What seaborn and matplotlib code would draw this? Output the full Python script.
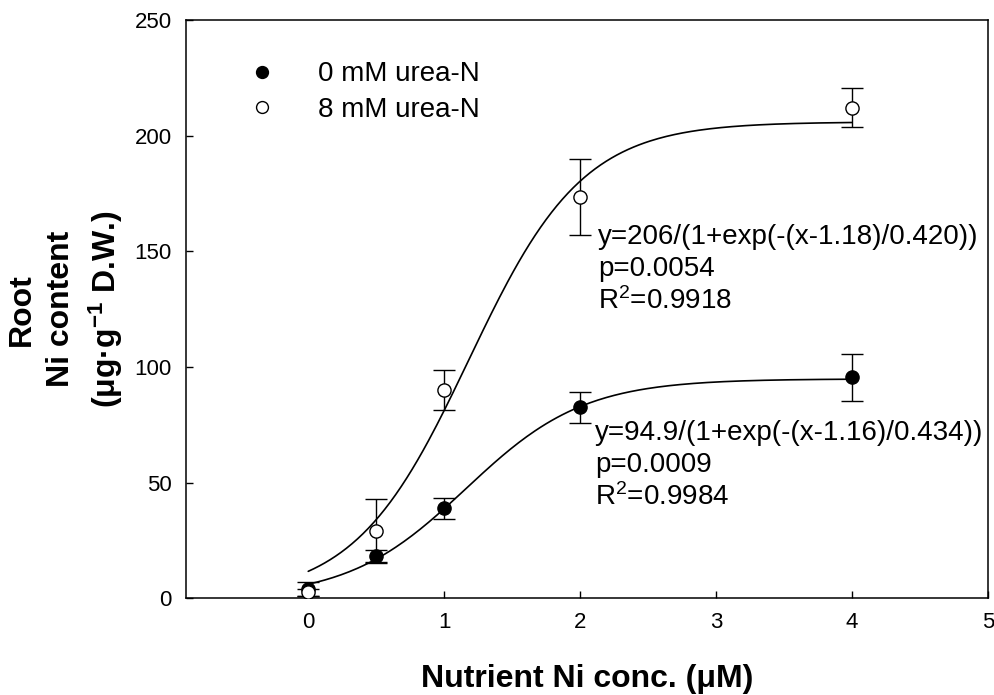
import numpy as np
import pandas as pd
import matplotlib
matplotlib.use("Agg")
import matplotlib.pyplot as plt
import seaborn as sns

# data
ni_conc = [0, 0.5, 1, 2, 4]
root_ni_0mM = [4.0, 18.4, 38.9, 82.6, 95.6]
err_0mM = [3.0, 2.5, 4.6, 6.6, 10.2]
root_ni_8mM = [2.6, 29.1, 90.1, 173.7, 212.2]
err_8mM = [1.5, 13.8, 8.5, 16.4, 8.6]

# logistic fits printed on the chart: a, x0, b
fit_0mM = (94.9, 1.16, 0.434)
fit_8mM = (206, 1.18, 0.420)
labels = ["0 mM urea-N", "8 mM urea-N"]

sns.set_style("ticks")
plt.rcParams['font.family'] = ['Liberation Sans', 'DejaVu Sans']
plt.rcParams['mathtext.fontset'] = 'custom'
plt.rcParams['mathtext.rm'] = 'Liberation Sans'
plt.rcParams['mathtext.it'] = 'Liberation Sans'
plt.rcParams['mathtext.bf'] = 'Liberation Sans:bold'
for k in ['text.color', 'axes.labelcolor', 'xtick.color', 'ytick.color', 'axes.edgecolor']:
    plt.rcParams[k] = 'black'

fig, ax = plt.subplots(figsize=(9.94, 6.95), dpi=100)
fig.subplots_adjust(left=0.187, right=0.994, top=0.971, bottom=0.139)

xs = np.linspace(0, 4, 200)
curves = []
for name, (a, x0, b) in zip(labels, [fit_0mM, fit_8mM]):
    curves.append(pd.DataFrame({"x": xs, "y": a / (1 + np.exp(-(xs - x0) / b)), "grp": name}))
curve_df = pd.concat(curves)
sns.lineplot(data=curve_df, x="x", y="y", units="grp", estimator=None,
             color="black", linewidth=1.2, ax=ax, legend=False)

for y, e, face, lab in [(root_ni_0mM, err_0mM, "black", labels[0]),
                        (root_ni_8mM, err_8mM, "white", labels[1])]:
    ax.errorbar(ni_conc, y, yerr=e, fmt="none", ecolor="black",
                elinewidth=1.0, capsize=8, capthick=1.0, zorder=3)
    ax.plot(ni_conc, y, "o", ms=9.5, mfc=face, mec="black", mew=1.0,
            linestyle="none", label=lab, zorder=4)

ax.set_xlim(-0.9, 5)
ax.set_ylim(0, 250)
ax.set_xticks([0, 1, 2, 3, 4, 5])
ax.set_yticks([0, 50, 100, 150, 200, 250])
ax.tick_params(direction="in", length=5, width=1, labelsize=16, pad=10)
for s in ax.spines.values():
    s.set_linewidth(1.1)
    s.set_color("black")

ax.set_xlabel("Nutrient Ni conc. (μM)", fontsize=23, fontweight="bold", labelpad=22)
ax.set_ylabel("Root\nNi content\n(μg·g$^{\\mathbf{-1}}$ D.W.)", fontsize=23,
              fontweight="bold", linespacing=1.38, va="center")
ax.yaxis.set_label_coords(-0.149, 0.5)

fs = 20
ax.text(2.13, 156.3, "y=206/(1+exp(-(x-1.18)/0.420))", fontsize=fs, va="center")
ax.text(2.13, 142.6, "p=0.0054", fontsize=fs, va="center")
ax.text(2.13, 128.6, "R$^2$=0.9918", fontsize=fs, va="center")
ax.text(2.11, 71.5, "y=94.9/(1+exp(-(x-1.16)/0.434))", fontsize=fs, va="center")
ax.text(2.11, 57.7, "p=0.0009", fontsize=fs, va="center")
ax.text(2.11, 43.9, "R$^2$=0.9984", fontsize=fs, va="center")

ax.legend(loc="upper left", bbox_to_anchor=(0.05, 0.972), frameon=False,
          fontsize=20, handlelength=0.8, handletextpad=1.6, labelspacing=0.35,
          markerscale=0.9)

fig.savefig("out.png", dpi=100)
